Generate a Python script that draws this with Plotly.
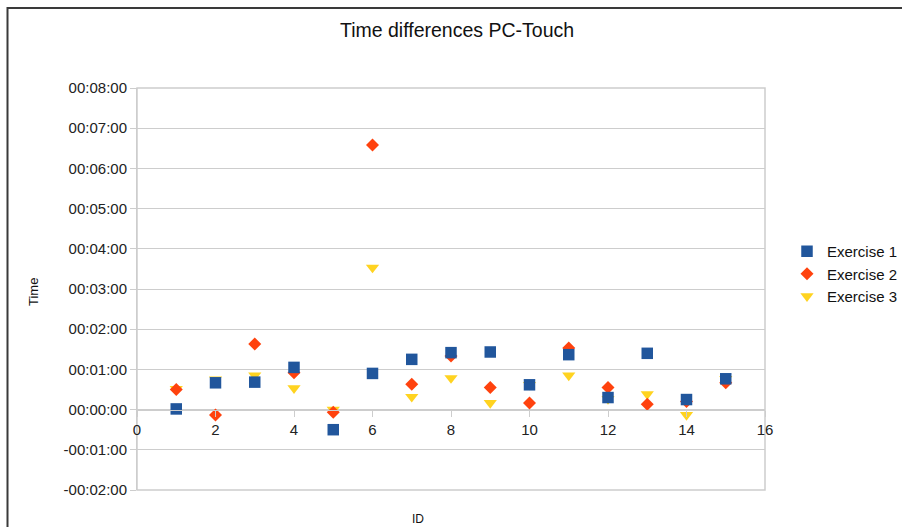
import plotly.graph_objects as go

# Participant IDs and per-exercise time differences (seconds, PC minus Touch)
ids = list(range(1, 16))
exercise_1 = [1, 40, 41, 63, -30, 54, 75, 85, 86, 37, 82, 18, 84, 15, 46]
exercise_2 = [30, -8, 98, 55, -4, 395, 38, 80, 33, 10, 92, 33, 8, 12, 40]
exercise_3 = [31, 45, 51, 32, 0, 212, 19, 47, 10, 37, 51, 16, 23, -8, 46]

series_names = ["Exercise 1", "Exercise 2", "Exercise 3"]

y_tick_vals = [-120, -60, 0, 60, 120, 180, 240, 300, 360, 420, 480]
y_tick_text = ["-00:02:00", "-00:01:00", "00:00:00", "00:01:00", "00:02:00",
               "00:03:00", "00:04:00", "00:05:00", "00:06:00", "00:07:00",
               "00:08:00"]
x_tick_vals = [0, 2, 4, 6, 8, 10, 12, 14, 16]

W, H = 902, 527
ML, MR, MT, MB = 137, 137, 88, 37
pw, ph = W - ML - MR, H - MT - MB
Y_MIN, Y_MAX = -120, 480

FONT = "Liberation Sans, Arial, sans-serif"
GRID = "#cdcdcd"

def px_x(x):
    return (x - ML) / pw

def px_y(y):
    return (H - MB - y) / ph

fig = go.Figure()

# Drawn bottom-up so squares sit on top of diamonds and triangles
fig.add_trace(go.Scatter(
    x=ids, y=exercise_3, mode="markers", name=series_names[2], legendrank=3,
    marker=dict(symbol="triangle-down", size=11.5, color="#ffd320",
                line=dict(width=0)),
))
fig.add_trace(go.Scatter(
    x=ids, y=exercise_2, mode="markers", name=series_names[1], legendrank=2,
    marker=dict(symbol="diamond", size=10, color="#ff420e",
                line=dict(width=0)),
))
fig.add_trace(go.Scatter(
    x=ids, y=exercise_1, mode="markers", name=series_names[0], legendrank=1,
    marker=dict(symbol="square", size=11.5, color="#21569c",
                line=dict(width=0)),
))

zero_pos = (0 - Y_MIN) / (Y_MAX - Y_MIN)

fig.update_layout(
    width=W, height=H,
    margin=dict(l=ML, r=MR, t=MT, b=MB, autoexpand=False),
    paper_bgcolor="white", plot_bgcolor="white",
    font=dict(family=FONT, size=15, color="#222222"),
    showlegend=True,
    legend=dict(
        x=px_x(787), y=px_y(235), xanchor="left", yanchor="top",
        font=dict(family=FONT, size=15, color="#111111"),
        itemwidth=30, tracegroupgap=0, bgcolor="rgba(0,0,0,0)",
    ),
    xaxis=dict(
        range=[0, 16], tickvals=x_tick_vals, ticktext=[str(v) for v in x_tick_vals],
        anchor="free", position=zero_pos,
        showgrid=False, zeroline=False,
        showline=True, linecolor=GRID, linewidth=1,
        ticks="outside", ticklen=6, tickcolor=GRID,
        tickfont=dict(family=FONT, size=15, color="#222222"),
    ),
    yaxis=dict(
        range=[Y_MIN, Y_MAX], tickvals=y_tick_vals, ticktext=y_tick_text,
        showgrid=True, gridcolor=GRID, gridwidth=1,
        zeroline=True, zerolinecolor=GRID, zerolinewidth=1,
        showline=True, linecolor=GRID, linewidth=1,
        ticks="outside", ticklen=6, tickcolor=GRID,
        tickfont=dict(family=FONT, size=15, color="#222222"),
    ),
    shapes=[
        # plot-area frame
        dict(type="rect", xref="paper", yref="paper", x0=0, x1=1, y0=0, y1=1,
             line=dict(color=GRID, width=1.5), layer="below"),
        # outer chart border
        dict(type="rect", xref="paper", yref="paper",
             x0=px_x(7.5), x1=px_x(W + 20), y0=px_y(H + 20), y1=px_y(8),
             line=dict(color="#3a3a3a", width=2)),
    ],
    annotations=[
        dict(text="Time differences PC-Touch", xref="paper", yref="paper",
             x=px_x(457), y=px_y(30), xanchor="center", yanchor="middle",
             showarrow=False, font=dict(family=FONT, size=19.5, color="#111111")),
        dict(text="Time", xref="paper", yref="paper",
             x=px_x(33), y=px_y(292), xanchor="center", yanchor="middle",
             textangle=-90, showarrow=False,
             font=dict(family=FONT, size=13, color="#111111")),
        dict(text="ID", xref="paper", yref="paper",
             x=px_x(418), y=px_y(519), xanchor="center", yanchor="middle",
             showarrow=False, font=dict(family=FONT, size=12, color="#111111")),
    ],
)

fig.write_html("out.html")
